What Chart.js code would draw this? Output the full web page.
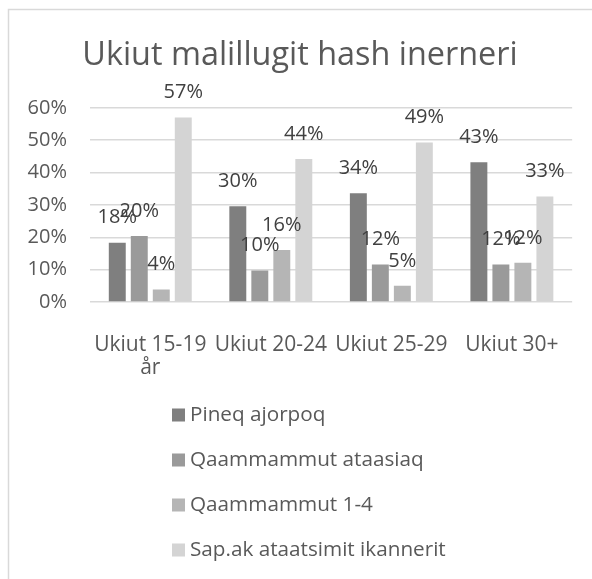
<!DOCTYPE html>
<html lang="kl">
<head>
    <meta charset="UTF-8">
    <title>Ukiut malillugit hash inerneri</title>
    <script src="https://cdn.jsdelivr.net/npm/chart.js@4/dist/chart.umd.min.js"></script>
    <style>
        html, body { margin: 0; padding: 0; background: #fff; }
        #wrap { width: 592px; height: 579px; }
    </style>
</head>
<body>
    <div id="wrap">
        <canvas id="barChart" width="592" height="579"></canvas>
    </div>
    <script>
        // data (percent)
        const categories = [['Ukiut 15-19', 'år'], 'Ukiut 20-24', 'Ukiut 25-29', 'Ukiut 30+'];
        const seriesNames = ['Pineq ajorpoq', 'Qaammammut ataasiaq', 'Qaammammut 1-4', 'Sap.ak ataatsimit ikannerit'];
        const pineqAjorpoq = [18.3, 29.6, 33.6, 43.2];
        const qaammammutAtaasiaq = [20.4, 9.7, 11.6, 11.6];
        const qaammammut1to4 = [3.9, 16.1, 5.0, 12.1];
        const sapakIkannerit = [57.0, 44.2, 49.3, 32.6];
        const yTicks = [0, 10, 20, 30, 40, 50, 60];

        const colors = ['#7f7f7f', '#9a9a9a', '#b5b5b5', '#d4d4d4'];
        const seriesValues = [pineqAjorpoq, qaammammutAtaasiaq, qaammammut1to4, sapakIkannerit];
        const fontFamily = '"Open Sans", "Noto Sans", sans-serif';

        const framePlugin = {
            id: 'frame',
            beforeDraw(chart) {
                const ctx = chart.ctx;
                ctx.save();
                ctx.fillStyle = '#fff';
                ctx.fillRect(0, 0, chart.width, chart.height);
                ctx.strokeStyle = '#d9d9d9';
                ctx.lineWidth = 1.5;
                ctx.strokeRect(8.5, 9.5, 700, 700);
                ctx.restore();
            }
        };

        const valueLabels = {
            id: 'valueLabels',
            afterDatasetsDraw(chart) {
                const ctx = chart.ctx;
                ctx.save();
                ctx.font = '20px ' + fontFamily;
                ctx.fillStyle = '#404040';
                ctx.textAlign = 'center';
                ctx.textBaseline = 'middle';
                chart.data.datasets.forEach((ds, i) => {
                    chart.getDatasetMeta(i).data.forEach((bar, j) => {
                        ctx.fillText(Math.round(ds.data[j]) + '%', bar.x, bar.y - 25);
                    });
                });
                ctx.restore();
            }
        };

        const listLegend = {
            id: 'listLegend',
            afterDraw(chart) {
                const ctx = chart.ctx;
                const top = chart.scales.x.bottom + 38;
                ctx.save();
                ctx.font = '20.7px ' + fontFamily;
                ctx.textBaseline = 'middle';
                chart.data.datasets.forEach((ds, i) => {
                    const y = top + i * 45;
                    ctx.fillStyle = ds.backgroundColor;
                    ctx.fillRect(172, y - 6.5, 13, 13);
                    ctx.fillStyle = '#595959';
                    ctx.fillText(ds.label, 190, y);
                });
                ctx.restore();
            }
        };

        const ctx = document.getElementById('barChart').getContext('2d');
        const barChart = new Chart(ctx, {
            type: 'bar',
            data: {
                labels: categories,
                datasets: seriesNames.map((name, i) => ({
                    label: name,
                    data: seriesValues[i],
                    backgroundColor: colors[i],
                    categoryPercentage: 0.73,
                    barPercentage: 0.77
                }))
            },
            options: {
                responsive: false,
                animation: false,
                layout: {
                    padding: { left: 27, right: 19, top: 0, bottom: 202 }
                },
                plugins: {
                    legend: { display: false },
                    tooltip: { enabled: false },
                    title: {
                        display: true,
                        text: 'Ukiut malillugit hash inerneri',
                        color: '#595959',
                        font: { family: fontFamily, size: 32.4, weight: 'normal', lineHeight: 1.2 },
                        padding: { top: 36, bottom: 33 }
                    }
                },
                scales: {
                    x: {
                        grid: { display: false, drawTicks: false },
                        border: { display: false },
                        afterFit(scale) { scale.height = 75; },
                        ticks: {
                            color: '#595959',
                            font: { family: fontFamily, size: 21, lineHeight: 1.1 },
                            padding: 31,
                            maxRotation: 0
                        }
                    },
                    y: {
                        min: 0,
                        max: 60,
                        afterBuildTicks(axis) {
                            axis.ticks = yTicks.map(v => ({ value: v }));
                        },
                        afterFit(scale) { scale.width = 63; },
                        grid: { color: '#d9d9d9', lineWidth: 1.5, drawTicks: false },
                        border: { display: false },
                        ticks: {
                            color: '#595959',
                            font: { family: fontFamily, size: 20 },
                            padding: 23,
                            callback: v => v + '%'
                        }
                    }
                }
            },
            plugins: [framePlugin, valueLabels, listLegend]
        });
    </script>
</body>
</html>
